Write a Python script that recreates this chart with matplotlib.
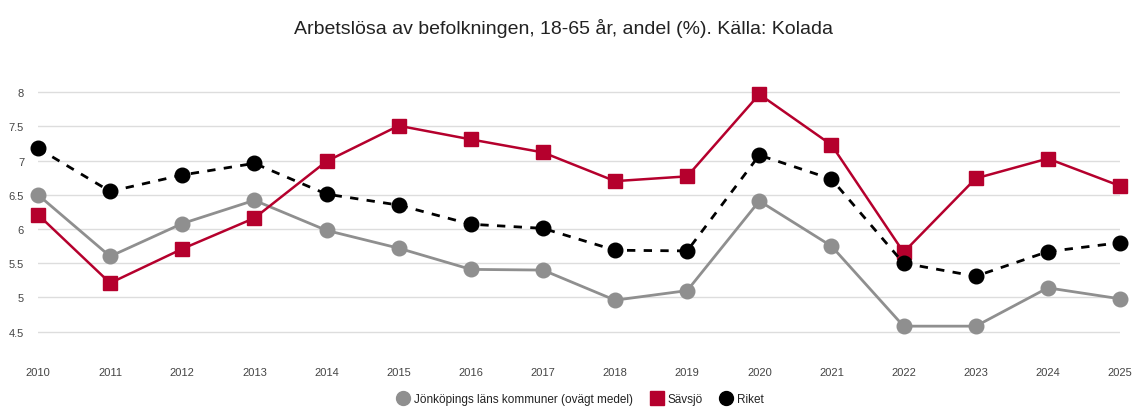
import matplotlib
matplotlib.use("Agg")
import matplotlib.pyplot as plt
from matplotlib.lines import Line2D

# Data
years = list(range(2010, 2026))
jonkoping = [6.50, 5.60, 6.08, 6.42, 5.98, 5.72, 5.41, 5.40, 4.96, 5.10,
             6.41, 5.75, 4.58, 4.58, 5.14, 4.98]
savsjo = [6.21, 5.21, 5.71, 6.16, 6.99, 7.51, 7.31, 7.12, 6.70, 6.77,
          7.97, 7.23, 5.66, 6.74, 7.03, 6.63]
riket = [7.18, 6.55, 6.79, 6.96, 6.51, 6.35, 6.07, 6.01, 5.69, 5.68,
         7.08, 6.73, 5.50, 5.31, 5.67, 5.80]

labels = ["Jönköpings läns kommuner (ovägt medel)", "Sävsjö", "Riket"]
yticks = [4.5, 5, 5.5, 6, 6.5, 7, 7.5, 8]

GRAY = "#8f8f8f"
RED = "#b5002d"
BLACK = "#000000"

plt.rcParams["font.family"] = ["Liberation Sans", "DejaVu Sans"]

fig = plt.figure(figsize=(11.36, 4.10), dpi=100)
ax = fig.add_axes([38 / 1136, 50 / 410, (1120 - 38) / 1136, (351 - 50) / 410])

ax.plot(years, jonkoping, color=GRAY, lw=2, marker="o", ms=10.5,
        clip_on=False, zorder=3)
ax.plot(years, savsjo, color=RED, lw=1.8, marker="s", ms=10,
        clip_on=False, zorder=4)
ax.plot(years, riket, color=BLACK, lw=2, ls=(0, (3, 3)), marker="o", ms=10.5,
        clip_on=False, zorder=5)

ax.set_xlim(2010, 2025)
ax.set_ylim(4.1, 8.5)
ax.set_yticks(yticks)
ax.set_yticklabels([f"{v:g}" for v in yticks])
ax.set_xticks(years)
ax.set_xticklabels([str(y) for y in years])
ax.grid(axis="y", color="#dddddd", lw=1)
ax.set_axisbelow(True)
for s in ax.spines.values():
    s.set_visible(False)
ax.tick_params(axis="both", length=0, labelsize=8, colors="#444444")
ax.tick_params(axis="y", pad=10)
ax.tick_params(axis="x", pad=6)

fig.text(0.5 - 4 / 1136, 1 - 28 / 410, "Arbetslösa av befolkningen, 18-65 år, andel (%). Källa: Kolada",
         ha="center", va="center", fontsize=14, color="#222222")

handles = [
    Line2D([], [], color=GRAY, marker="o", ls="none", ms=10),
    Line2D([], [], color=RED, marker="s", ls="none", ms=10),
    Line2D([], [], color=BLACK, marker="o", ls="none", ms=10),
]
fig.legend(handles, labels, loc="center", bbox_to_anchor=(580 / 1136, 1 - 400 / 410),
           ncol=3, frameon=False, fontsize=8.5, handletextpad=0.3, columnspacing=1.4,
           handlelength=1.2, labelcolor="#222222")

fig.savefig("out.png", dpi=100)
